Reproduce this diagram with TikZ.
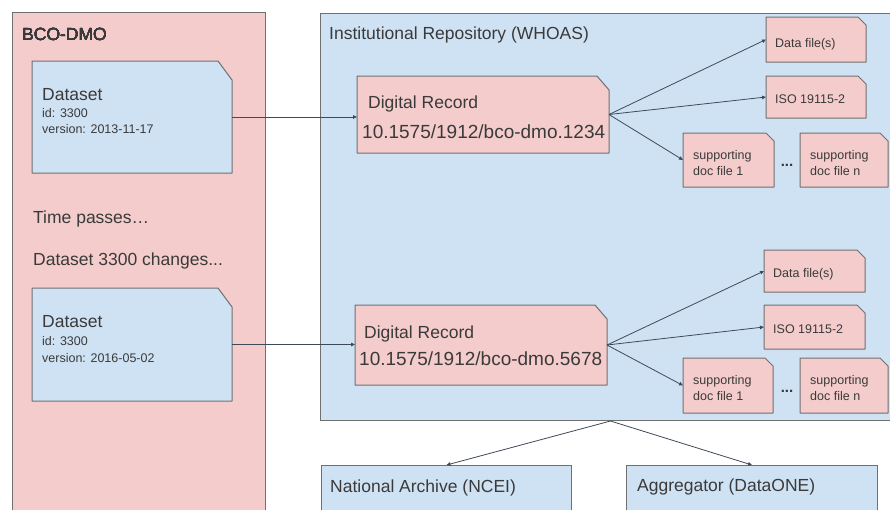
\documentclass[tikz,border=0pt]{standalone}
\usepackage{fontspec}
\setmainfont{Liberation Sans}
\usetikzlibrary{arrows.meta}
\definecolor{pinkfill}{HTML}{F4CCCC}
\definecolor{bluefill}{HTML}{CFE2F3}
\definecolor{edgegray}{HTML}{707070}
\definecolor{inkgray}{HTML}{3A3A3A}
\definecolor{linkgray}{HTML}{3E4A57}
\newcommand{\bigtxt}{\fontsize{17.5}{20}\selectfont}
\newcommand{\smalltxt}{\fontsize{12.5}{15}\selectfont}
\newcommand{\doitxt}{\fontsize{19}{22}\selectfont}
% outline of a box with its top right corner cut off
\newcommand{\snipshape}[4]{%
  \filldraw[fill=#4, draw=edgegray, line width=1pt, line join=round]
    (#1.south west) -- (#1.north west) -- ([xshift=-#2]#1.north east)
    -- ([yshift=-#3]#1.north east) -- (#1.south east) -- cycle;}

\begin{document}
\begin{tikzpicture}[x=1pt,y=-1pt,
    panel/.style={draw=edgegray, line width=1pt, inner sep=0pt, anchor=north west},
    snipbox/.style={rectangle, inner sep=0pt, outer sep=0pt},
    label/.style={anchor=base west, inner sep=0pt, text=inkgray},
    link/.style={draw=linkgray, line width=0.8pt, -{Triangle[length=4pt,width=3.5pt]}}]
    \useasboundingbox (0,0) rectangle (890,509);
    \clip (0,0) rectangle (890,509);
    % the big panels
    \node[panel, fill=pinkfill, minimum width=253pt, minimum height=520pt] (bco) at (12,12) {};
    \node[panel, fill=bluefill, minimum width=580pt, minimum height=407pt] (ir) at (320,13) {};
    \node[panel, fill=bluefill, minimum width=250pt, minimum height=80pt] (ncei) at (321,465) {};
    \node[panel, fill=bluefill, minimum width=251pt, minimum height=80pt] (agg) at (626,465) {};
    % datasets
    \node[snipbox, minimum width=200pt, minimum height=112pt] (ds1) at (132,117) {};
    \node[snipbox, minimum width=200pt, minimum height=113pt] (ds2) at (132,344.5) {};
    \snipshape{ds1}{14pt}{19pt}{bluefill}
    \snipshape{ds2}{14pt}{19pt}{bluefill}
    % digital records
    \node[snipbox, minimum width=252pt, minimum height=77pt] (dr1) at (483,114.5) {};
    \node[snipbox, minimum width=252pt, minimum height=80pt] (dr2) at (481,345) {};
    \snipshape{dr1}{12pt}{14pt}{pinkfill}
    \snipshape{dr2}{12pt}{14pt}{pinkfill}
    % files
    \node[snipbox, minimum width=100pt, minimum height=45pt] (data1) at (816,39.5) {};
    \node[snipbox, minimum width=100pt, minimum height=42pt] (iso1) at (816,97) {};
    \node[snipbox, minimum width=91pt, minimum height=54pt] (supa1) at (728.5,160) {};
    \node[snipbox, minimum width=88pt, minimum height=54pt] (supn1) at (844,160) {};
    \node[snipbox, minimum width=101pt, minimum height=42pt] (data2) at (814.5,271) {};
    \node[snipbox, minimum width=101pt, minimum height=44pt] (iso2) at (814.5,327) {};
    \node[snipbox, minimum width=90pt, minimum height=55pt] (supa2) at (728,385.5) {};
    \node[snipbox, minimum width=88pt, minimum height=55pt] (supn2) at (844,385.5) {};
    \foreach \f in {data1,iso1,supa1,supn1,data2,iso2,supa2,supn2}
      \snipshape{\f}{8pt}{8pt}{pinkfill}
    % texts
    \node[label] (bcot) at (22,40) {\bigtxt BCO-DMO};
    \node[label] (irt) at (329,39) {\bigtxt Institutional Repository (WHOAS)};
    \node[label] (timet) at (33,223) {\bigtxt Time passes…};
    \node[label] (changet) at (33,265) {\bigtxt Dataset 3300 changes...};
    \node[label] at (42,100) {\bigtxt Dataset};
    \node[label] at (42,117) {\smalltxt id: 3300};
    \node[label] at (42,133) {\smalltxt version: 2013-11-17};
    \node[label] at (42,327) {\bigtxt Dataset};
    \node[label] at (42,345) {\smalltxt id: 3300};
    \node[label] at (42,362) {\smalltxt version: 2016-05-02};
    \node[label] at (368,108) {\bigtxt Digital Record};
    \node[label] at (362,138) {\doitxt 10.1575/1912/bco-dmo.1234};
    \node[label] at (364,338) {\bigtxt Digital Record};
    \node[label] at (359,365) {\doitxt 10.1575/1912/bco-dmo.5678};
    \node[label] at (775,47) {\smalltxt Data file(s)};
    \node[label] at (775,103) {\smalltxt ISO 19115-2};
    \node[label] at (693,159) {\smalltxt supporting};
    \node[label] at (693,175) {\smalltxt doc file 1};
    \node[label] at (810,159) {\smalltxt supporting};
    \node[label] at (810,175) {\smalltxt doc file n};
    \node[label] at (773,277) {\smalltxt Data file(s)};
    \node[label] at (773,333) {\smalltxt ISO 19115-2};
    \node[label] at (693,384) {\smalltxt supporting};
    \node[label] at (693,400) {\smalltxt doc file 1};
    \node[label] at (810,384) {\smalltxt supporting};
    \node[label] at (810,400) {\smalltxt doc file n};
    \node[label] at (330,492) {\bigtxt National Archive (NCEI)};
    \node[label] at (637,491) {\bigtxt Aggregator (DataONE)};
    \node[text=inkgray, inner sep=0pt] (dots1) at (787,165) {\fontsize{15}{18}\selectfont\bfseries ...};
    \node[text=inkgray, inner sep=0pt] (dots2) at (787,391) {\fontsize{15}{18}\selectfont\bfseries ...};
    % connectors
    \draw[link] (ds1.east) -- (ds1.east -| dr1.west);
    \draw[link] (ds2.east) -- (ds2.east -| dr2.west);
    \foreach \f in {data1,iso1,supa1} \draw[link] (dr1.east) -- (\f.west);
    \foreach \f in {data2,iso2,supa2} \draw[link] (dr2.east) -- (\f.west);
    \draw[link] (ir.south) -- (ncei.north);
    \draw[link] (ir.south) -- (agg.north);
\end{tikzpicture}
\end{document}
